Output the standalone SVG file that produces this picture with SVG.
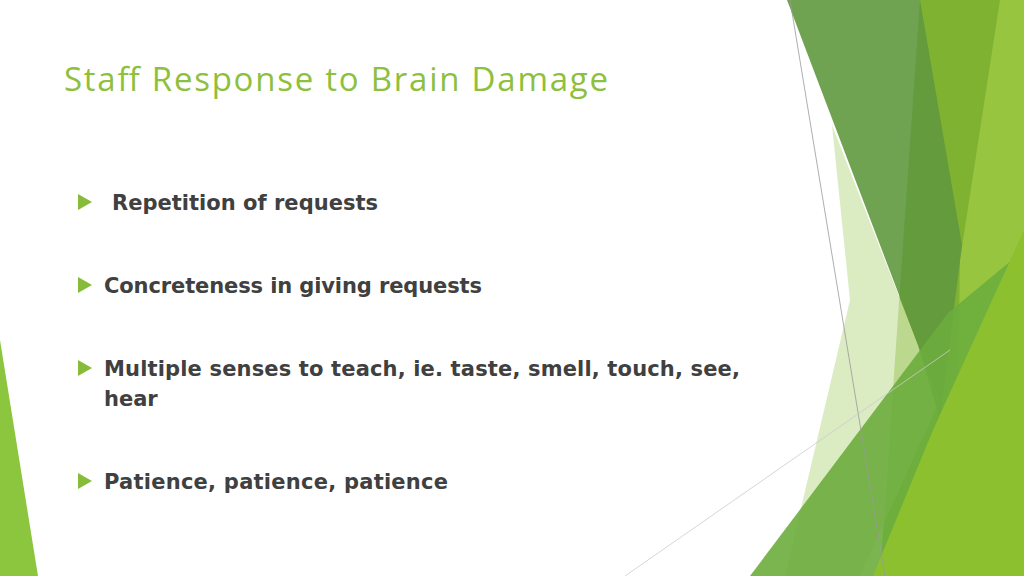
<svg xmlns="http://www.w3.org/2000/svg" width="1024" height="576" viewBox="0 0 1024 576">
<style>
.t{font-family:"Open Sans","Liberation Sans",sans-serif;font-size:33px;fill:#8dc03c}
.b{font-family:"DejaVu Sans","Liberation Sans",sans-serif;font-weight:bold;font-size:21px;fill:#404040}
.bl{fill:#86bc3a}
</style>
<rect width="1024" height="576" fill="#fff"/>
<polygon points="0,340 38,576 0,576" fill="#8cc63f"/>
<polygon points="920,0 1024,0 1024,576 880,576" fill="#80b232"/>
<polygon points="1000,0 1024,0 1024,576 955,576 960,260" fill="#98c53f"/>
<polygon points="832,125 918,345 940,400 860,576 785,576 850,300" fill="#cfe4ad" opacity="0.75"/>
<polygon points="787,0 920,0 962,245 940,420 918,345" fill="#5f983e" opacity="0.9"/>
<polygon points="750,576 948,313 1024,250 1024,576" fill="#6cad3d" opacity="0.9"/>
<polygon points="873,576 933,430 1024,230 1024,576" fill="#8cc02e"/>
<line x1="790" y1="0" x2="885" y2="576" stroke="#999" stroke-width="0.8"/>
<line x1="625" y1="576" x2="950" y2="350" stroke="#ccc" stroke-width="0.8"/>
<text class="t" x="64" y="91" textLength="544">Staff Response to Brain Damage</text>
<polygon class="bl" points="78,194 92,202 78,210"/>
<polygon class="bl" points="78,277 92,285 78,293"/>
<polygon class="bl" points="78,360 92,368 78,376"/>
<polygon class="bl" points="78,473 92,481 78,489"/>
<text class="b" x="112" y="210" textLength="266">Repetition of requests</text>
<text class="b" x="104" y="293" textLength="378">Concreteness in giving requests</text>
<text class="b" x="104" y="376" textLength="636">Multiple senses to teach, ie. taste, smell, touch, see,</text>
<text class="b" x="104" y="406">hear</text>
<text class="b" x="104" y="489" textLength="344">Patience, patience, patience</text>
</svg>
